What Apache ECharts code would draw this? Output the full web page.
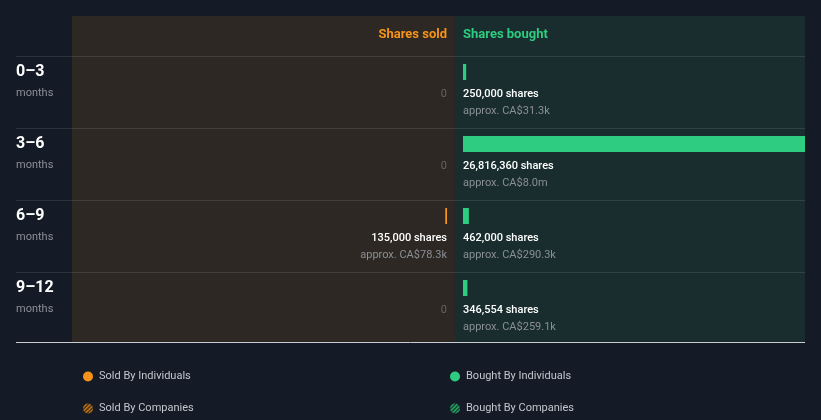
<!DOCTYPE html>
<html><head><meta charset="utf-8">
<script src="https://cdn.jsdelivr.net/npm/echarts@6/dist/echarts.min.js"></script>
<style>html,body{margin:0;padding:0;background:#151b26;}#c{width:821px;height:420px;}</style>
</head><body><div id="c"></div>
<script>
// ---- data ----
const periods = ['0–3', '3–6', '6–9', '9–12'];
const periodUnit = 'months';
const soldShares = [0, 0, 135000, 0];
const soldValue = ['', '', 'CA$78.3k', ''];
const boughtShares = [250000, 26816360, 462000, 346554];
const boughtValue = ['CA$31.3k', 'CA$8.0m', 'CA$290.3k', 'CA$259.1k'];
const axisMax = 26816360;
const legendNames = ['Sold By Individuals', 'Sold By Companies', 'Bought By Individuals', 'Bought By Companies'];

// ---- styles ----
const ORANGE = '#f7931a', GREEN = '#2ecc80';
const FONT = 'Roboto';
function hatch(fg, bg) {
  const c = document.createElement('canvas'); c.width = 4; c.height = 4;
  const g = c.getContext('2d');
  g.fillStyle = bg; g.fillRect(0, 0, 4, 4);
  g.strokeStyle = fg; g.lineWidth = 1.2;
  g.beginPath(); g.moveTo(0, 4); g.lineTo(4, 0); g.moveTo(-1, 1); g.lineTo(1, -1); g.moveTo(3, 5); g.lineTo(5, 3); g.stroke();
  return { image: c, repeat: 'repeat' };
}
const fmt = n => n.toLocaleString('en-US');
const idx = periods.map((p, i) => [0, i]);

const chart = echarts.init(document.getElementById('c'), null, { renderer: 'canvas' });

function textEl(x, y, text, fill, size, weight, align) {
  return { type: 'text', x: x, y: y, style: { text: text, fill: fill, font: (weight || 'normal') + ' ' + size + 'px ' + FONT, align: align, verticalAlign: 'middle' } };
}

const option = {
  backgroundColor: '#151b26',
  animation: false,
  graphic: {
    elements: [
      { type: 'rect', shape: { x: 72, y: 16, width: 383, height: 326 }, style: { fill: '#2d2823' }, z: -10 },
      { type: 'rect', shape: { x: 455, y: 16, width: 350, height: 326 }, style: { fill: '#192d2e' }, z: -10 },
      { type: 'line', shape: { x1: 16, y1: 56.5, x2: 805, y2: 56.5 }, style: { stroke: 'rgba(255,255,255,0.1)', lineWidth: 1 }, z: -5 },
      { type: 'line', shape: { x1: 16, y1: 128.5, x2: 805, y2: 128.5 }, style: { stroke: 'rgba(255,255,255,0.1)', lineWidth: 1 }, z: -5 },
      { type: 'line', shape: { x1: 16, y1: 200.5, x2: 805, y2: 200.5 }, style: { stroke: 'rgba(255,255,255,0.1)', lineWidth: 1 }, z: -5 },
      { type: 'line', shape: { x1: 16, y1: 272.5, x2: 805, y2: 272.5 }, style: { stroke: 'rgba(255,255,255,0.1)', lineWidth: 1 }, z: -5 },
      { type: 'line', shape: { x1: 16, y1: 342.5, x2: 805, y2: 342.5 }, style: { stroke: '#c9ccd1', lineWidth: 1 }, z: -5 },
      { type: 'text', x: 447, y: 35, style: { text: 'Shares sold', fill: ORANGE, font: 'bold 13px ' + FONT, align: 'right', verticalAlign: 'middle' } },
      { type: 'text', x: 463, y: 35, style: { text: 'Shares bought', fill: GREEN, font: 'bold 13px ' + FONT, align: 'left', verticalAlign: 'middle' } }
    ]
  },
  legend: [
    { data: legendNames.slice(0, 2), orient: 'vertical', left: 78, top: 366, itemWidth: 10, itemHeight: 10, itemGap: 21, icon: 'circle', selectedMode: false,
      textStyle: { color: '#c3c7ce', fontSize: 11, fontFamily: FONT, padding: [0, 0, 0, 1] } },
    { data: legendNames.slice(2, 4), orient: 'vertical', left: 445, top: 366, itemWidth: 10, itemHeight: 10, itemGap: 21, icon: 'circle', selectedMode: false,
      textStyle: { color: '#c3c7ce', fontSize: 11, fontFamily: FONT, padding: [0, 0, 0, 1] } }
  ],
  grid: [
    { left: 105, right: 374, top: 36, height: 288 },
    { left: 463, right: 16, top: 36, height: 288 }
  ],
  xAxis: [
    { gridIndex: 0, type: 'value', min: 0, max: axisMax, inverse: true, show: false },
    { gridIndex: 1, type: 'value', min: 0, max: axisMax, show: false }
  ],
  yAxis: [
    { gridIndex: 0, type: 'category', data: periods, inverse: true, show: false },
    { gridIndex: 1, type: 'category', data: periods, inverse: true, show: false }
  ],
  series: [
    { name: legendNames[0], type: 'bar', xAxisIndex: 0, yAxisIndex: 0, data: soldShares, barWidth: 16, barGap: '-100%', itemStyle: { color: ORANGE } },
    { name: legendNames[2], type: 'bar', xAxisIndex: 1, yAxisIndex: 1, data: boughtShares, barWidth: 16, barGap: '-100%', itemStyle: { color: GREEN } },
    { name: legendNames[1], type: 'bar', xAxisIndex: 0, yAxisIndex: 0, data: [], barWidth: 16, barGap: '-100%', itemStyle: { color: hatch(ORANGE, '#3a2a14') } },
    { name: legendNames[3], type: 'bar', xAxisIndex: 1, yAxisIndex: 1, data: [], barWidth: 16, barGap: '-100%', itemStyle: { color: hatch(GREEN, '#143a28') } },
    {
      type: 'custom', xAxisIndex: 0, yAxisIndex: 0, data: idx, encode: { x: 0, y: 1 }, silent: true,
      renderItem: function (params, api) {
        const i = api.value(1);
        const p = api.coord([0, i]);
        const ch = [
          textEl(16, p[1], periods[i], '#ffffff', 16, 'bold', 'left'),
          textEl(16, p[1] + 21, periodUnit, '#8b8f96', 11, 'normal', 'left')
        ];
        if (soldShares[i] === 0) {
          ch.push(textEl(p[0], p[1] + 22, '0', '#646464', 11, 'normal', 'right'));
        } else {
          ch.push(textEl(p[0], p[1] + 22, fmt(soldShares[i]) + ' shares', '#ffffff', 11, '500', 'right'));
          ch.push(textEl(p[0], p[1] + 39, 'approx. ' + soldValue[i], '#8b8f96', 11, 'normal', 'right'));
        }
        return { type: 'group', children: ch };
      }
    },
    {
      type: 'custom', xAxisIndex: 1, yAxisIndex: 1, data: idx, encode: { x: 0, y: 1 }, silent: true,
      renderItem: function (params, api) {
        const i = api.value(1);
        const p = api.coord([0, i]);
        return { type: 'group', children: [
          textEl(p[0], p[1] + 22, fmt(boughtShares[i]) + ' shares', '#ffffff', 11, '500', 'left'),
          textEl(p[0], p[1] + 39, 'approx. ' + boughtValue[i], '#8b8f96', 11, 'normal', 'left')
        ] };
      }
    }
  ]
};
chart.setOption(option);
</script></body></html>
